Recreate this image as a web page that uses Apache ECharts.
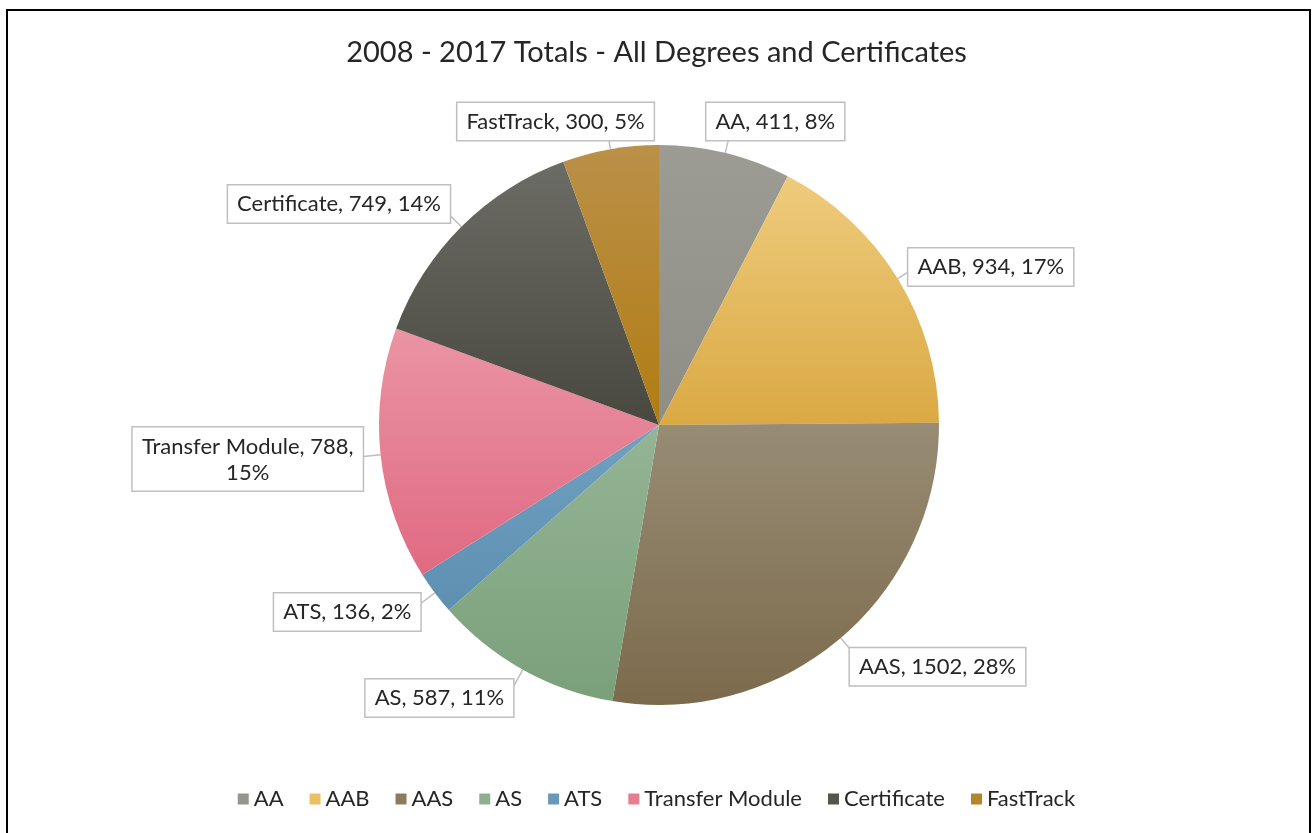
<!DOCTYPE html>
<html>
<head>
<meta charset="utf-8">
<script src="https://cdn.jsdelivr.net/npm/echarts@6/dist/echarts.min.js"></script>
<style>
  html, body { margin: 0; padding: 0; background: #fff; overflow: hidden; }
  #frame {
    position: absolute; left: 6px; top: 9px; width: 1301px; height: 840px;
    border: 2px solid #000; border-bottom: none; box-sizing: content-box;
  }
  #chart { position: absolute; left: 0; top: 0; width: 1313px; height: 833px; }
</style>
</head>
<body>
<div id="frame"></div>
<div id="chart"></div>
<script>
const categories = ['AA', 'AAB', 'AAS', 'AS', 'ATS', 'Transfer Module', 'Certificate', 'FastTrack'];
const totals = [411, 934, 1502, 587, 136, 788, 749, 300];

// gradient colours, top -> bottom of each slice
const topColors = ['#9c9c94', '#eecb7c', '#978c74', '#95b596', '#70a0c2', '#ea94a4', '#6c6c66', '#bb9048'];
const bottomColors = ['#8e8e86', '#daa944', '#7c6a4c', '#7aa07a', '#5e90b2', '#e06a82', '#48483f', '#b07c12'];
const legendColors = ['#95958d', '#e9c164', '#8c7c5e', '#8eb08e', '#6898ba', '#e67e92', '#55554e', '#b4862c'];

// nudges for the callout boxes (Excel places them a little differently)
const labelShift = [[-37, -10], [-21, 0], [-18, 12], [14, 9], [16, 6], [17, 2], [17, -7], [60, -6]];

const FONT = 'Lato';
const LABEL_SIZE = 22;

// width of the first line of the wrapped label, so the second line can be centred under it
function textWidth(str) {
  const ctx = document.createElement('canvas').getContext('2d');
  ctx.font = LABEL_SIZE + 'px ' + FONT;
  return Math.ceil(ctx.measureText(str).width);
}

const chart = echarts.init(document.getElementById('chart'));

const data = categories.map((name, i) => {
  const item = {
    name: name,
    value: totals[i],
    itemStyle: {
      color: new echarts.graphic.LinearGradient(0, 0, 0, 1, [
        { offset: 0, color: topColors[i] },
        { offset: 1, color: bottomColors[i] }
      ])
    }
  };
  if (name === 'Transfer Module') {
    const w = textWidth(name + ', ' + totals[i] + ',');
    item.label = {
      formatter: '{t|{b}, {c},}\n{t|{d}%}',
      rich: { t: { width: w, align: 'center', fontFamily: FONT, fontSize: LABEL_SIZE, lineHeight: 26, color: '#262626' } }
    };
  }
  return item;
});

chart.setOption({
  animation: false,
  title: {
    text: '2008 - 2017 Totals - All Degrees and Certificates',
    left: 'center',
    top: 33,
    textStyle: { fontFamily: FONT, fontSize: 29, fontWeight: 'normal', color: '#262626' }
  },
  legend: {
    bottom: 18,
    left: 'center',
    icon: 'rect',
    itemWidth: 11,
    itemHeight: 11,
    itemGap: 26,
    textStyle: { fontFamily: FONT, fontSize: 22, color: '#262626' },
    data: categories.map((name, i) => ({ name: name, itemStyle: { color: legendColors[i] } }))
  },
  series: [{
    type: 'pie',
    center: [659, 425],
    radius: 280,
    startAngle: 90,
    clockwise: true,
    percentPrecision: 0,
    data: data,
    label: {
      show: true,
      position: 'outside',
      formatter: '{b}, {c}, {d}%',
      fontFamily: FONT,
      fontSize: LABEL_SIZE,
      lineHeight: 26,
      color: '#262626',
      backgroundColor: '#fff',
      borderColor: '#bfbfbf',
      borderWidth: 1.5,
      padding: [6, 9, 5, 9]
    },
    labelLine: {
      show: true,
      length: 22,
      length2: 8,
      lineStyle: { color: '#bfbfbf', width: 1.5 }
    },
    labelLayout: function (params) {
      const s = labelShift[params.dataIndex];
      return { dx: s[0], dy: s[1] };
    },
    emphasis: { disabled: true }
  }]
});
</script>
</body>
</html>
